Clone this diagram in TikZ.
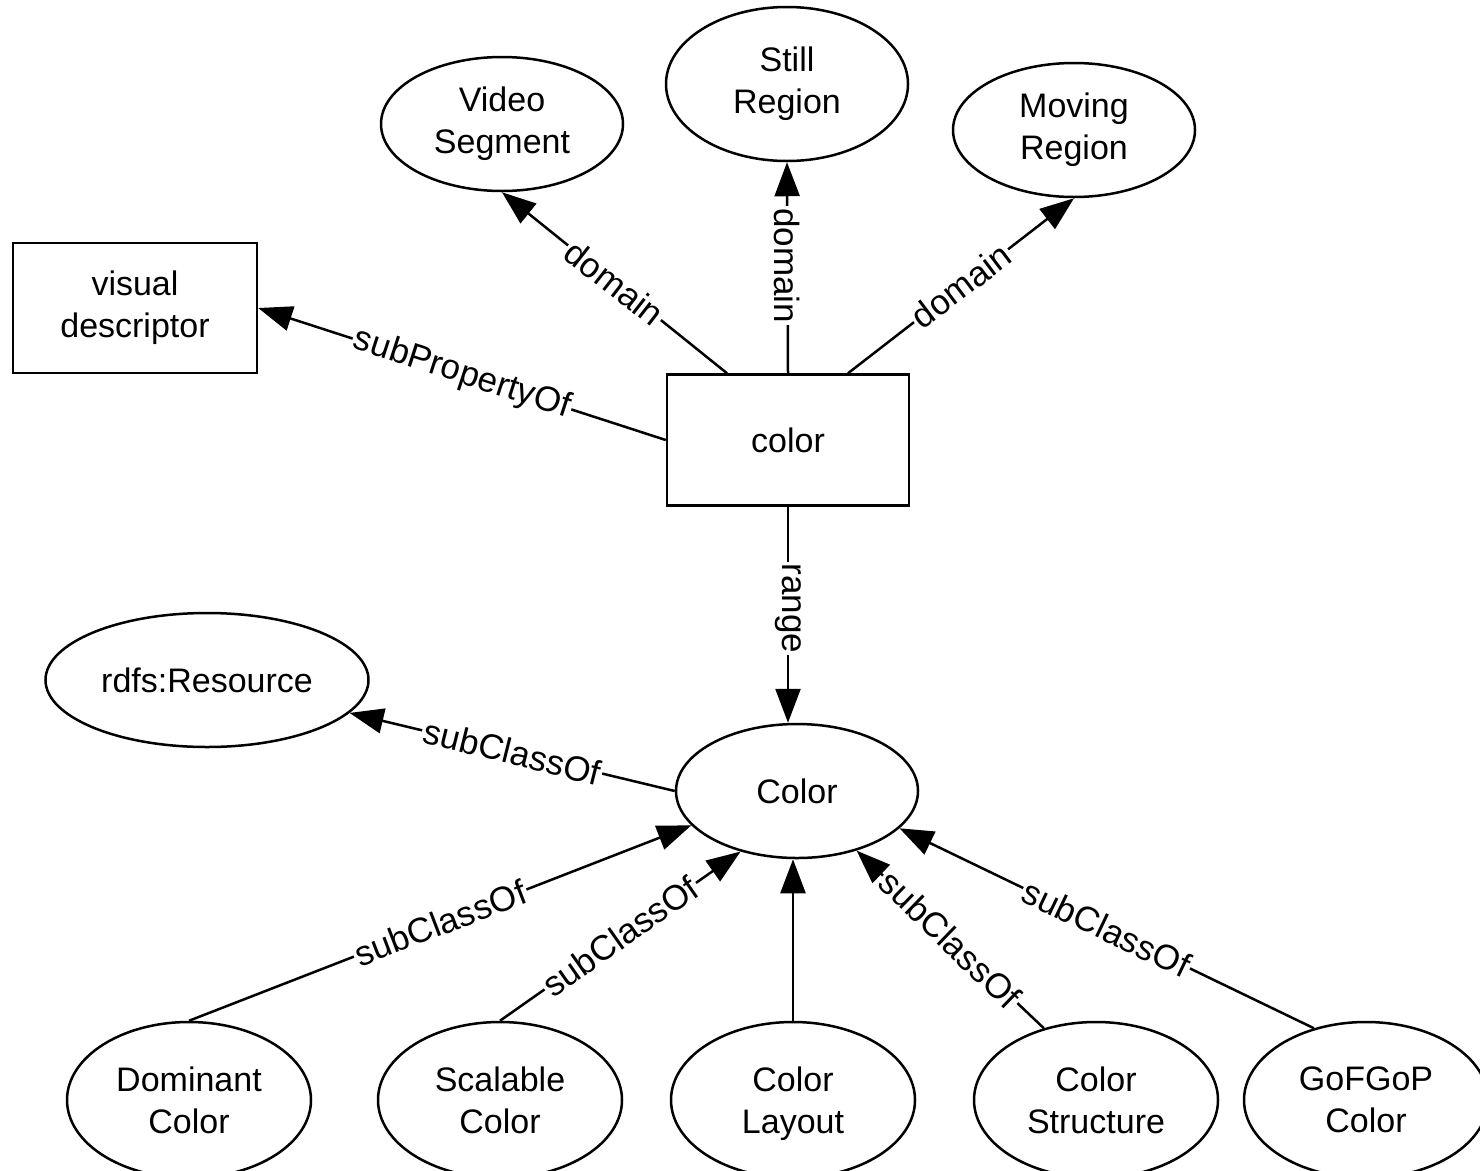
\documentclass[tikz,border=0pt]{standalone}
\usepackage{fontspec}
\setmainfont{Liberation Sans}
\usetikzlibrary{arrows.meta,shapes.geometric}
\begin{document}
\begin{tikzpicture}[x=1pt,y=-1pt,
 every node/.style={font=\fontsize{34}{42}\selectfont, align=center},
 ell/.style={draw, ellipse, line width=2.5pt, inner sep=0pt, minimum width=242pt, minimum height=134pt},
 bot/.style={minimum width=244pt, minimum height=156pt},
 box/.style={draw, rectangle, line width=2.5pt, inner sep=0pt},
 conn/.style={line width=2.5pt, -{Triangle[length=34pt,width=25pt]}},
 lbl/.style={fill=white, inner sep=2pt, font=\fontsize{35}{42}\selectfont}
]
\path[use as bounding box, fill=white] (0,0) rectangle (1480,1170);

\node[ell] (vs) at (502,124) {Video\\Segment};
\node[ell, minimum height=154pt] (sr) at (787,84) {Still\\Region};
\node[ell] (mr) at (1074,130) {Moving\\Region};
\node[box, minimum width=244pt, minimum height=130pt] (vd) at (135,308) {visual\\descriptor};
\node[box, minimum width=242pt, minimum height=131pt] (cp) at (788,440) {color};
\node[ell, minimum width=323pt] (rr) at (207,680) {rdfs:Resource};
\node[ell] (cc) at (797,791) {Color};

\node[ell,bot] (dc) at (189,1100) {Dominant\\Color};
\node[ell,bot] (sc) at (500,1100) {Scalable\\Color};
\node[ell,bot,text depth=0pt] (cl) at (793,1100) {Color\\Layout};
\node[ell,bot] (cs) at (1096,1100) {Color\\Structure};
\node[ell,bot] (gg) at (1366,1100) {GoFGoP\\Color};

\draw[conn] ([xshift=-61pt]cp.north) -- node[lbl,rotate=-38]{domain} (vs.south);
\draw[conn] (cp.north) -- node[lbl,rotate=-90,pos=0.51]{domain} (sr.south);
\draw[conn] ([xshift=60pt]cp.north) -- node[lbl,rotate=37]{domain} (mr.south);
\draw[conn] (cp.west) -- node[lbl,rotate=-18]{subPropertyOf} (vd.east);
\draw[conn] (cp.south) -- node[lbl,rotate=-90,pos=0.47]{range} (cp.south |- cc.north);
\draw[conn] (cc.west) -- node[lbl,rotate=-14]{subClassOf} (rr.-13.5);
\draw[conn] (dc.north) -- node[lbl,rotate=21]{subClassOf} (cc.198);
\draw[conn] (sc.north) -- node[lbl,rotate=35]{subClassOf} (cc.227);
\draw[conn] (cl.north) -- (cl.north |- cc.south);
\draw[conn] (cs.126) -- node[lbl,rotate=-44]{subClassOf} (cc.-45);
\draw[conn] (gg.126) -- node[lbl,rotate=-25.6]{subClassOf} (cc.-20);
\end{tikzpicture}
\end{document}
